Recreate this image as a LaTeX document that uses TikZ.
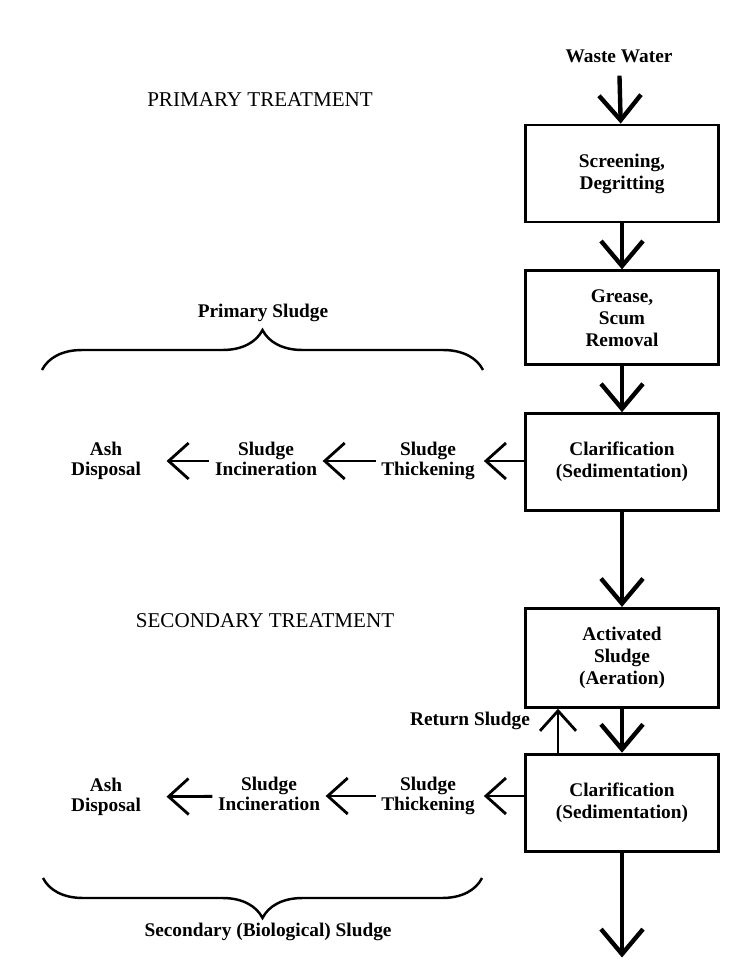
\documentclass[tikz,border=0pt]{standalone}
\usepackage{fontspec}
\setmainfont{Liberation Serif}
\usetikzlibrary{positioning, arrows.meta, decorations.pathreplacing}

\begin{document}
\begin{tikzpicture}[
    x=0.02cm, y=-0.02cm,
    node distance=0.92cm,
    procbox/.style={draw, line width=1.6pt, minimum width=3.86cm, minimum height=1.94cm,
                    align=center, font=\bfseries\fontsize{11}{12.5}\selectfont},
    sidetext/.style={align=center, inner sep=3pt, text depth=2.5pt, font=\bfseries\fontsize{11}{11.5}\selectfont},
    heading/.style={font=\fontsize{12}{14}\selectfont},
    mainflow/.style={line width=2.5pt, -{Straight Barb[length=0.5cm, width=0.84cm]}},
    sideflow/.style={line width=1.6pt, -{Straight Barb[length=0.4cm, width=0.72cm]}},
    sludgebrace/.style={line width=1.4pt, decorate, decoration={brace, amplitude=0.8cm}}
]
\useasboundingbox (0,0) rectangle (751,972);

% Main treatment line
\node[sidetext] (inflow) at (619,58) {Waste Water};
\node[procbox] (screen) at (622,173.5) {Screening,\\Degritting};
\node[procbox, minimum height=1.88cm, below=of screen] (grease) {Grease,\\Scum\\Removal};
\node[procbox, below=of grease] (clar1) {Clarification\\(Sedimentation)};
\node[procbox, minimum height=1.98cm, below=1.9cm of clar1] (aerate) {Activated\\Sludge\\(Aeration)};
\node[procbox, below=0.88cm of aerate] (clar2) {Clarification\\(Sedimentation)};
\coordinate (outflow) at ([yshift=-2.1cm]clar2.south);

\draw[mainflow, shorten <=2pt] (inflow) -- (screen);
\draw[mainflow] (screen) -- (grease);
\draw[mainflow] (grease) -- (clar1);
\draw[mainflow] (clar1) -- (aerate);
\draw[mainflow] (aerate) -- (clar2);
\draw[mainflow] (clar2) -- (outflow);

% Headings
\node[heading] (primhead) at (260,100) {PRIMARY TREATMENT};
\node[heading] (sechead) at (265,621) {SECONDARY TREATMENT};

% Primary sludge handling
\node[sidetext] (thick1) at (428,461) {Sludge\\Thickening};
\node[sidetext] (incin1) at (266,461) {Sludge\\Incineration};
\node[sidetext] (ash1) at (106,461) {Ash\\Disposal};
\draw[sideflow, shorten >=2pt] (clar1.west |- thick1) -- (thick1);
\draw[sideflow] (thick1) -- (incin1);
\draw[sideflow, shorten >=0.4cm] (incin1) -- (ash1);

\draw[sludgebrace] (42,370) -- (483,370);
\node[sidetext] (primsludge) at (263,313) {Primary Sludge};

% Secondary sludge handling
\draw[sideflow] ([xshift=-1.28cm]clar2.north) -- ([xshift=-1.28cm]aerate.south);
\node[sidetext] (retsludge) at (470,721) {Return Sludge};

\node[sidetext] (thick2) at (428,796) {Sludge\\Thickening};
\node[sidetext] (incin2) at (269,796) {Sludge\\Incineration};
\node[sidetext] (ash2) at (106,797) {Ash\\Disposal};
\draw[sideflow, shorten >=2pt] (clar2.west |- thick2) -- (thick2);
\draw[sideflow] (thick2) -- (incin2);
\draw[sideflow, shorten >=0.4cm] (incin2) -- (ash2);

\draw[sludgebrace] (482,878) -- (43,878);
\node[sidetext] (secsludge) at (268,932) {Secondary (Biological) Sludge};
\end{tikzpicture}
\end{document}
